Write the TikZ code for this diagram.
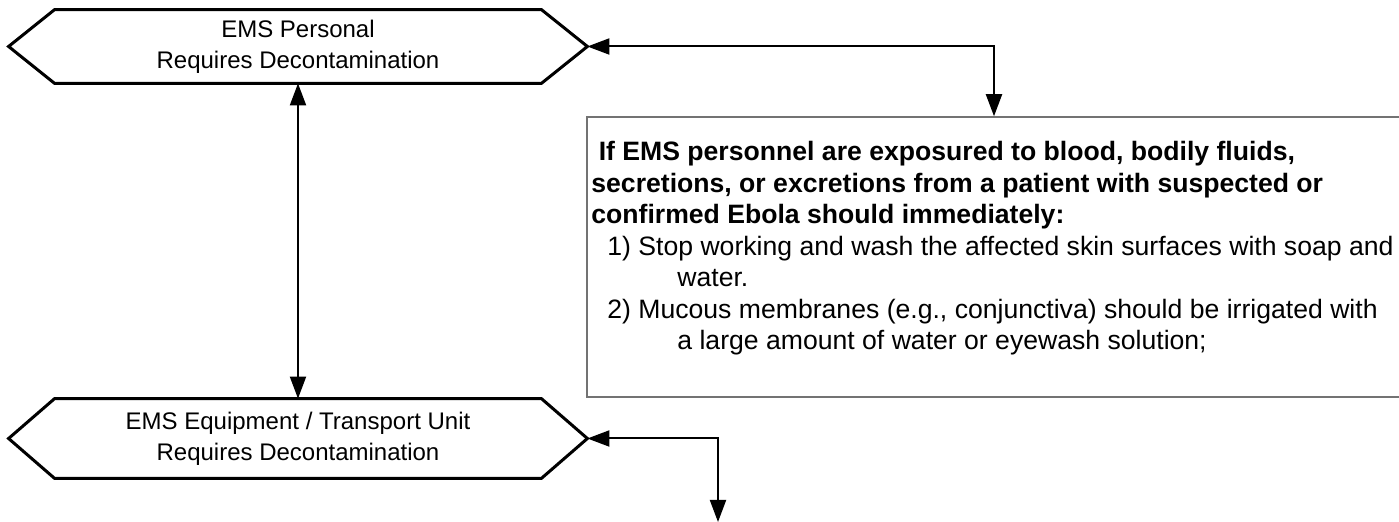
\documentclass[tikz,border=0pt]{standalone}
\usepackage{fontspec}
\setmainfont{Liberation Sans}
\usepackage{tikz}
\usetikzlibrary{arrows.meta, positioning, calc}

\begin{document}
\begin{tikzpicture}[
    x=0.5pt, y=-0.5pt,
    hexa/.style={rectangle, minimum width=289pt, minimum height=#1, inner sep=0pt, align=center,
        font=\fontsize{12}{15.5}\selectfont},
    frame/.style={line width=1.5pt, line join=miter},
    warnbox/.style={rectangle, draw=black!55, line width=0.75pt, minimum width=407pt, minimum height=140pt},
    warntext/.style={inner sep=0pt, align=left, anchor=north west, font=\fontsize{13.3}{15.75}\selectfont},
    arr/.style={line width=1pt, {Triangle[length=11pt,width=8pt]}-{Triangle[length=11pt,width=8pt]}}
]
    \useasboundingbox (0,0) rectangle (1399,522);

    % EMS personal
    \node[hexa=36.5pt] (pers) at (298,46.5) {EMS Personal\\Requires Decontamination};
    \draw[frame] (pers.west) -- ([xshift=23pt]pers.north west) -- ([xshift=-23pt]pers.north east)
        -- (pers.east) -- ([xshift=-23pt]pers.south east) -- ([xshift=23pt]pers.south west) -- cycle;

    % EMS equipment / transport unit
    \node[hexa=39.5pt] (equip) at (298,438.5) {EMS Equipment / Transport Unit\\Requires Decontamination};
    \draw[frame] (equip.west) -- ([xshift=23pt]equip.north west) -- ([xshift=-23pt]equip.north east)
        -- (equip.east) -- ([xshift=-23pt]equip.south east) -- ([xshift=23pt]equip.south west) -- cycle;

    % Exposure instructions
    \node[warnbox] (warn) at (994,257) {};
    \node[warntext] (warntxt) at (591,141) {%
        \textbf{\ If EMS personnel are exposured to blood, bodily fluids,}\\
        \textbf{secretions, or excretions from a patient with suspected or}\\
        \textbf{confirmed Ebola should immediately:}\\
        \hspace{8pt}1) Stop working and wash the affected skin surfaces with soap and\\
        \hspace{43pt}water.\\
        \hspace{8pt}2) Mucous membranes (e.g., conjunctiva) should be irrigated with\\
        \hspace{43pt}a large amount of water or eyewash solution;};

    % Connectors
    \coordinate (out) at (718,522);
    \draw[arr] (pers.south) -- (equip.north);
    \draw[arr] (pers.east) -| (warn.north);
    \draw[arr] (equip.east) -| (out);
\end{tikzpicture}
\end{document}
